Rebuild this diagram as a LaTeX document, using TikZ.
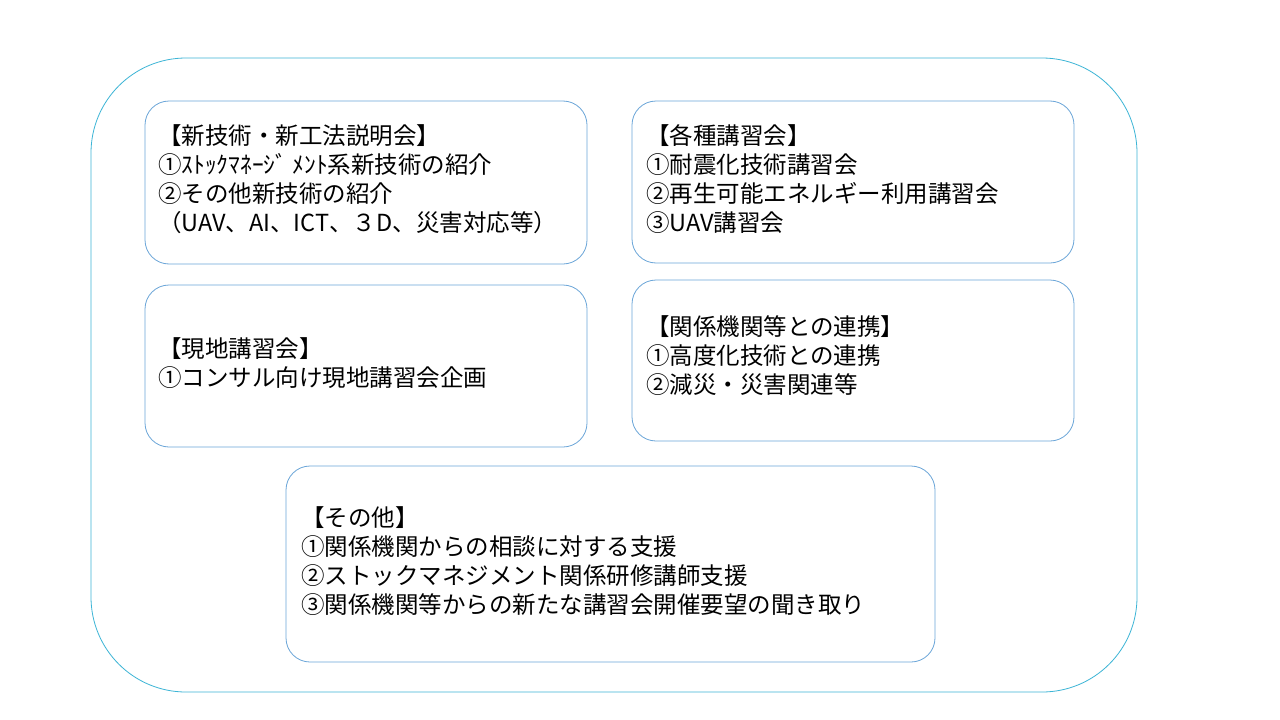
\documentclass[tikz,border=0pt]{standalone}
\usepackage{fontspec}
\setmainfont{Noto Sans CJK JP}
\definecolor{outerc}{HTML}{3CB5D6}
\definecolor{boxc}{HTML}{6AA5D8}
\begin{document}
\begin{tikzpicture}[x=1pt,y=-1pt,
  card/.style={draw=boxc,line width=0.8pt,rounded corners=24pt},
  txt/.style={anchor=north west,align=left,inner sep=0pt,font=\fontsize{23.5}{29}\selectfont}]
\useasboundingbox (0,0) rectangle (1280,720);
\fill[white] (0,0) rectangle (1280,720);
\draw[draw=outerc,line width=0.8pt,rounded corners=95pt] (91,58) rectangle (1137,692);
\draw[card] (145,101) rectangle (587,264);
\draw[card] (632,101) rectangle (1074,263);
\draw[card] (145,285) rectangle (587,447);
\draw[card] (632,280) rectangle (1074,441);
\draw[card] (286,466) rectangle (935,662);
\node[txt] (t1) at (158,124) {【新技術・新工法説明会】\\①ｽﾄｯｸﾏﾈｰｼﾞ ﾒﾝﾄ系新技術の紹介\\②その他新技術の紹介\\（UAV、AI、ICT、３D、災害対応等）};
\node[txt] (t2) at (646,124) {【各種講習会】\\①耐震化技術講習会\\②再生可能エネルギー利用講習会\\③UAV講習会};
\node[txt] (t3) at (158,337) {【現地講習会】\\①コンサル向け現地講習会企画};
\node[txt] (t4) at (646,315) {【関係機関等との連携】\\①高度化技術との連携\\②減災・災害関連等};
\node[txt] (t5) at (301,506) {【その他】\\①関係機関からの相談に対する支援\\②ストックマネジメント関係研修講師支援\\③関係機関等からの新たな講習会開催要望の聞き取り};
\end{tikzpicture}
\end{document}
